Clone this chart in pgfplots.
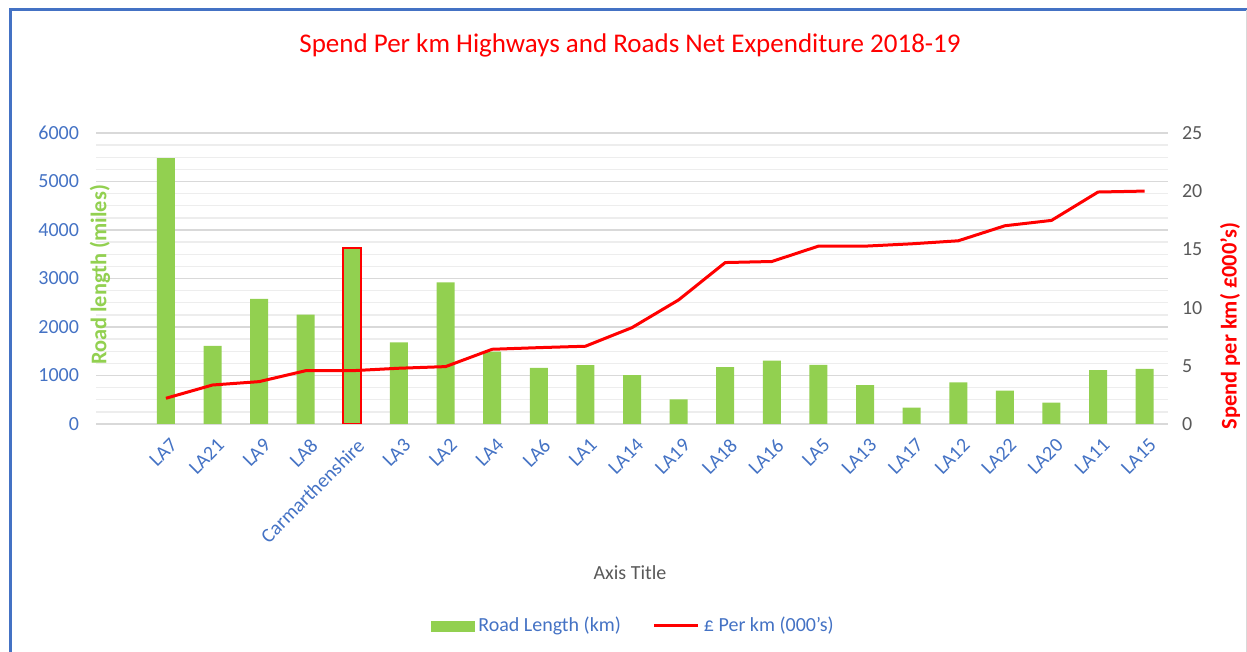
\documentclass[border=0pt]{standalone}
\usepackage{pgfplots}
\pgfplotsset{compat=1.18}
\usepackage{pgfplotstable}
\usepackage{fontspec}
\setmainfont{Carlito}

\definecolor{barGreen}{HTML}{92D050}
\definecolor{tickBlue}{HTML}{4472C4}
\definecolor{txtGray}{HTML}{595959}
\definecolor{gridMaj}{HTML}{D9D9D9}
\definecolor{gridMin}{HTML}{EDEDED}

% road length and spend per km, one row per authority
\pgfplotstableread{
idx len  spend
0   5480 2.21
1   1610 3.35
2   2580 3.64
3   2255 4.58
4   3636 4.58
5   1685 4.79
6   2920 4.93
7   1490 6.42
8   1155 6.56
9   1215 6.68
10  1010 8.28
11  510  10.66
12  1175 13.87
13  1305 13.96
14  1220 15.28
15  800  15.28
16  335  15.48
17  860  15.74
18  690  17.03
19  440  17.49
20  1110 19.93
21  1135 20.01
}\datatable

\begin{document}
\begin{tikzpicture}
\path[use as bounding box] (0,0) rectangle (623.5pt,326pt);
\draw[tickBlue, line width=1.5pt] (5pt,0) -- (5pt,321pt) -- (623.5pt,321pt);
\draw[gridMaj, line width=0.5pt] (623pt,0) -- (623pt,321pt);

\begin{axis}[
    at={(48pt,114pt)}, anchor=south west,
    scale only axis, width=536pt, height=145.5pt,
    xmin=-1.5, xmax=21.5,
    ymin=0, ymax=6000,
    ytick={0,1000,...,6000},
    minor y tick num=3,
    ymajorgrids, yminorgrids,
    major grid style={gridMaj, line width=0.7pt},
    minor grid style={gridMin, line width=0.7pt},
    axis line style={draw=none},
    major tick length=0pt, minor tick length=0pt,
    xtick={0,...,21},
    xticklabels={LA7,LA21,LA9,LA8,Carmarthenshire,LA3,LA2,LA4,LA6,LA1,LA14,LA19,LA18,LA16,LA5,LA13,LA17,LA12,LA22,LA20,LA11,LA15},
    xticklabel style={rotate=45, anchor=north east, yshift=-2.5pt, text=tickBlue, font=\fontsize{10}{12}\selectfont},
    yticklabel style={text=tickBlue, xshift=-5pt, font=\fontsize{10}{12}\selectfont},
    scaled y ticks=false,
    /pgf/number format/assume math mode=true,
    /pgf/number format/set thousands separator={},
]
\addplot[ybar, bar width=9pt, bar shift=0pt, fill=barGreen, draw=none]
    table[x=idx, y=len] {\datatable};
\addplot[ybar, bar width=9pt, bar shift=0pt, fill=barGreen, draw=red, line width=1pt]
    coordinates {(4,3636)};
\end{axis}

\begin{axis}[
    at={(48pt,114pt)}, anchor=south west,
    scale only axis, width=536pt, height=145.5pt,
    xmin=-1.5, xmax=21.5,
    ymin=0, ymax=25,
    ytick={0,5,...,25},
    axis y line*=right,
    hide x axis,
    axis line style={draw=none},
    major tick length=0pt,
    yticklabel style={text=txtGray, xshift=3.5pt, font=\fontsize{10}{12}\selectfont},
    /pgf/number format/assume math mode=true,
    legend columns=2,
    legend style={at={(0.502,-0.694)}, anchor=center, draw=none, fill=none,
        font=\fontsize{10}{12}\selectfont, text=tickBlue,
        /tikz/every even column/.append style={column sep=14pt}},
]
\addlegendimage{legend image code/.code={\fill[barGreen] (0pt,-2.5pt) rectangle (21.5pt,2.5pt);}}
\addlegendentry{Road Length (km)}
\addplot[red, line width=1.5pt, line join=round,
    legend image code/.code={\draw[red, line width=1.5pt] (0pt,0pt) -- (22pt,0pt);}]
    table[x=idx, y=spend] {\datatable};
\addlegendentry{£ Per km (000's)}
\end{axis}

\node[text=red, font=\fontsize{13.5}{16}\selectfont] at (315pt,303.5pt)
    {Spend Per km Highways and Roads Net Expenditure 2018-19};
\node[text=barGreen, rotate=90, font=\fontsize{11.2}{13}\selectfont\bfseries] at (50pt,188.5pt)
    {Road length (miles)};
\node[text=red, rotate=90, font=\fontsize{11.2}{13}\selectfont\bfseries] at (615pt,163pt)
    {Spend per km( £000's)};
\node[text=txtGray, font=\fontsize{10}{12}\selectfont] at (315pt,39.5pt) {Axis Title};
\end{tikzpicture}
\end{document}
